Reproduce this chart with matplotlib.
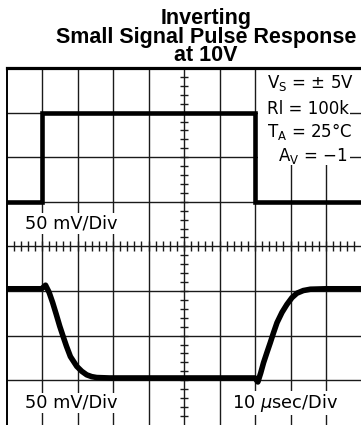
import matplotlib
matplotlib.use("Agg")
import matplotlib.pyplot as plt
from matplotlib.patches import Rectangle
import numpy as np

# Screen coordinates are in divisions: 10 horizontal (10 usec/div), 8 vertical (50 mV/div)
input_t = [0.0, 1.0, 1.0, 7.0, 7.0, 10.0]
input_v = [1.0, 1.0, 3.0, 3.0, 1.0, 1.0]

output_t = [0.0, 0.99, 1.10, 1.20, 1.30, 1.40, 1.50, 1.60, 1.69, 1.80, 1.98,
            2.12, 2.26, 2.40, 2.54, 2.90, 7.00, 7.08, 7.16, 7.24, 7.34, 7.43,
            7.52, 7.62, 7.76, 7.90, 8.04, 8.18, 8.36, 8.56, 9.00, 10.0]
output_v = [-0.95, -0.95, -0.87, -1.03, -1.26, -1.52, -1.79, -2.03, -2.24, -2.47, -2.69,
            -2.80, -2.88, -2.92, -2.94, -2.95, -2.95, -3.04, -2.84, -2.61, -2.37, -2.16,
            -1.94, -1.71, -1.48, -1.30, -1.15, -1.05, -0.99, -0.96, -0.95, -0.95]

title_lines = ["Inverting", "Small Signal Pulse Response", "at 10V"]
conditions = [r"V$_\mathregular{S}$ = ± 5V", "Rl = 100k", r"T$_\mathregular{A}$ = 25°C",
              r"A$_\mathregular{V}$ = −1"]

W, H = 361, 425
fig = plt.figure(figsize=(W / 100, H / 100), dpi=100)
fig.patch.set_facecolor("white")

x0, x1 = 6.5, 361.5
y_top, y_bot = 68.0, 424.8
ax = fig.add_axes([x0 / W, 1 - y_bot / H, (x1 - x0) / W, (y_bot - y_top) / H])
ax.set_xlim(0, 10)
ax.set_ylim(-4, 4)
ax.set_xticks([])
ax.set_yticks([])
for s in ("right", "bottom"):
    ax.spines[s].set_visible(False)
ax.spines["top"].set_linewidth(2.3)
ax.spines["left"].set_linewidth(1.4)
ax.spines["top"].set_zorder(6)
ax.spines["left"].set_zorder(6)

grid_c = "#1a1a1a"
for gx in range(1, 10):
    ax.axvline(gx, color=grid_c, lw=1.0, zorder=1)
for gy in range(-3, 4):
    ax.axhline(gy, color=grid_c, lw=1.0, zorder=1)

# minor ticks on the centre cross
for tx in np.arange(0.2, 10, 0.2):
    ax.plot([tx, tx], [-0.11, 0.11], color=grid_c, lw=1.0, zorder=1, solid_capstyle="butt")
for ty in np.arange(-3.8, 4, 0.2):
    ax.plot([5 - 0.125, 5 + 0.125], [ty, ty], color=grid_c, lw=1.0, zorder=1, solid_capstyle="butt")

# white panel behind the test conditions
ax.add_patch(Rectangle((7.08, 1.83), 2.60, 2.3, facecolor="white", edgecolor="none", zorder=2))
ax.add_patch(Rectangle((7.08, 1.65), 0.9, 0.3, facecolor="white", edgecolor="none", zorder=2))

ax.plot(input_t, input_v, color="black", lw=3.3, zorder=4, solid_joinstyle="miter")
ax.plot(output_t, output_v, color="black", lw=4.0, zorder=4, solid_joinstyle="round",
        solid_capstyle="butt")

lab_kw = dict(fontsize=12.8, family="DejaVu Sans", va="center", ha="left", zorder=3,
              bbox=dict(facecolor="white", edgecolor="none", pad=1.0))
ax.text(0.52, 0.52, "50 mV/Div", **lab_kw)
ax.text(0.52, -3.51, "50 mV/Div", **lab_kw)
ax.text(6.35, -3.51, r"10 $\mu$sec/Div", **lab_kw)

cond_kw = dict(fontsize=12, family="DejaVu Sans", va="center", ha="left", zorder=3)
ax.text(7.34, 3.66, conditions[0], **cond_kw)
ax.text(7.34, 3.08, conditions[1], **cond_kw)
ax.text(7.34, 2.58, conditions[2], **cond_kw)
ax.text(7.65, 2.03, conditions[3], **cond_kw)

fig.text(206 / W, 1 - 37 / H, "\n".join(title_lines), ha="center", va="center",
         fontsize=15.5, fontweight="bold", family="Liberation Sans", linespacing=0.84)

fig.savefig("out.png", dpi=100, facecolor="white")
